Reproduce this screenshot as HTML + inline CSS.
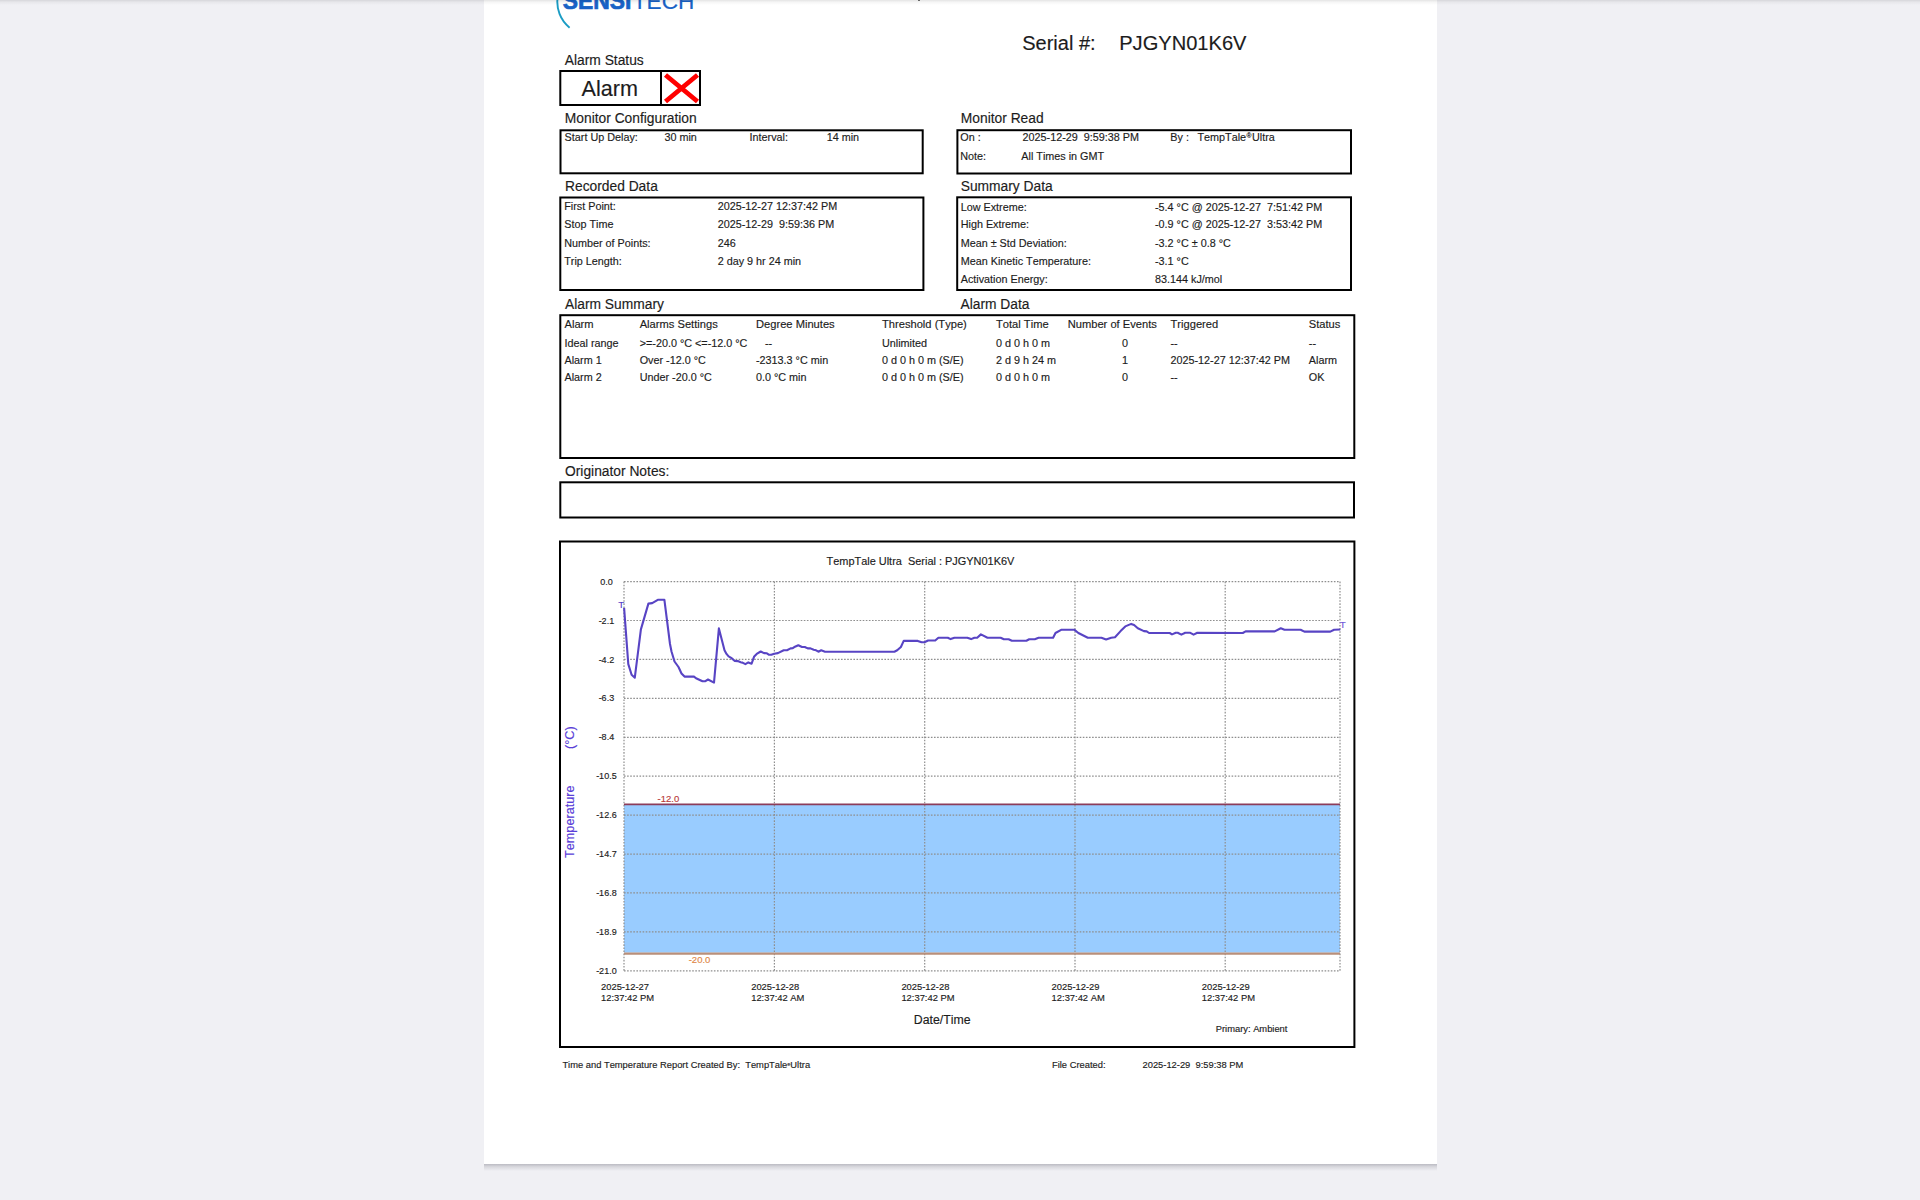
<!DOCTYPE html>
<html><head><meta charset="utf-8">
<style>
html,body{margin:0;padding:0;width:1920px;height:1200px;overflow:hidden;background:rgb(240,240,244);}
#page{position:absolute;left:484px;top:-200px;width:953px;height:1364px;background:#fff;}
#shadow{position:absolute;left:484px;top:1164px;width:953px;height:7px;background:linear-gradient(rgba(0,0,20,0.22),rgba(0,0,20,0.10) 40%,rgba(0,0,20,0));}
#topsh{position:absolute;left:0;top:0;width:1920px;height:5px;background:linear-gradient(rgba(0,0,0,0.11),rgba(0,0,0,0.04) 40%,rgba(0,0,0,0));}
.t{position:absolute;font-family:"Liberation Sans",sans-serif;line-height:1;white-space:pre;color:#1c1c1c;font-kerning:none;-webkit-text-stroke:0.15px currentColor;}
.sup{font-size:62%;vertical-align:0.5em;padding:0 0.5px}
svg{position:absolute;left:0;top:0;}
</style></head><body>
<div id="page"></div>
<div id="shadow"></div>
<svg width="1920" height="1200" viewBox="0 0 1920 1200">
<rect x="560.3" y="71" width="139.70" height="34.00" fill="none" stroke="#000" stroke-width="2"/>
<line x1="661" y1="71" x2="661" y2="105" stroke="#000" stroke-width="2"/>
<path d="M665.5 75 L697.5 101.5 M697.5 75 L665.5 101.5" stroke="#ff0000" stroke-width="4.8" stroke-linecap="butt"/>
<rect x="560.5" y="130.3" width="362.20" height="43.00" fill="none" stroke="#000" stroke-width="2"/>
<rect x="957.4" y="130.2" width="393.60" height="43.30" fill="none" stroke="#000" stroke-width="2"/>
<rect x="560.3" y="197.5" width="363.10" height="92.50" fill="none" stroke="#000" stroke-width="2"/>
<rect x="957.2" y="197.3" width="393.80" height="92.70" fill="none" stroke="#000" stroke-width="2"/>
<rect x="560.3" y="315.2" width="794.00" height="142.80" fill="none" stroke="#000" stroke-width="2"/>
<rect x="560.3" y="482.3" width="793.70" height="35.20" fill="none" stroke="#000" stroke-width="2"/>
<rect x="560.0" y="541.5" width="794.40" height="505.50" fill="none" stroke="#000" stroke-width="2"/>
<rect x="624.0" y="805" width="716.0" height="147.6" fill="#99ccff"/>
<line x1="624.0" y1="581.60" x2="1340.0" y2="581.60" stroke="#8e8e8e" stroke-width="1.2" stroke-dasharray="1.6 1.5"/>
<line x1="624.0" y1="620.52" x2="1340.0" y2="620.52" stroke="#8e8e8e" stroke-width="1.2" stroke-dasharray="1.6 1.5"/>
<line x1="624.0" y1="659.44" x2="1340.0" y2="659.44" stroke="#8e8e8e" stroke-width="1.2" stroke-dasharray="1.6 1.5"/>
<line x1="624.0" y1="698.36" x2="1340.0" y2="698.36" stroke="#8e8e8e" stroke-width="1.2" stroke-dasharray="1.6 1.5"/>
<line x1="624.0" y1="737.28" x2="1340.0" y2="737.28" stroke="#8e8e8e" stroke-width="1.2" stroke-dasharray="1.6 1.5"/>
<line x1="624.0" y1="776.20" x2="1340.0" y2="776.20" stroke="#8e8e8e" stroke-width="1.2" stroke-dasharray="1.6 1.5"/>
<line x1="624.0" y1="815.12" x2="1340.0" y2="815.12" stroke="#8e8e8e" stroke-width="1.2" stroke-dasharray="1.6 1.5"/>
<line x1="624.0" y1="854.04" x2="1340.0" y2="854.04" stroke="#8e8e8e" stroke-width="1.2" stroke-dasharray="1.6 1.5"/>
<line x1="624.0" y1="892.96" x2="1340.0" y2="892.96" stroke="#8e8e8e" stroke-width="1.2" stroke-dasharray="1.6 1.5"/>
<line x1="624.0" y1="931.88" x2="1340.0" y2="931.88" stroke="#8e8e8e" stroke-width="1.2" stroke-dasharray="1.6 1.5"/>
<line x1="624.0" y1="970.80" x2="1340.0" y2="970.80" stroke="#8e8e8e" stroke-width="1.2" stroke-dasharray="1.6 1.5"/>
<line x1="624.0" y1="581.6" x2="624.0" y2="970.80" stroke="#8e8e8e" stroke-width="1.2" stroke-dasharray="1.6 1.5"/>
<line x1="774.4" y1="581.6" x2="774.4" y2="970.80" stroke="#8e8e8e" stroke-width="1.2" stroke-dasharray="1.6 1.5"/>
<line x1="924.7" y1="581.6" x2="924.7" y2="970.80" stroke="#8e8e8e" stroke-width="1.2" stroke-dasharray="1.6 1.5"/>
<line x1="1075.0" y1="581.6" x2="1075.0" y2="970.80" stroke="#8e8e8e" stroke-width="1.2" stroke-dasharray="1.6 1.5"/>
<line x1="1225.2" y1="581.6" x2="1225.2" y2="970.80" stroke="#8e8e8e" stroke-width="1.2" stroke-dasharray="1.6 1.5"/>
<line x1="1340.0" y1="581.6" x2="1340.0" y2="970.80" stroke="#8e8e8e" stroke-width="1.2" stroke-dasharray="1.6 1.5"/>
<line x1="624.0" y1="804.4" x2="1340.0" y2="804.4" stroke="#8c3c5a" stroke-width="1.8"/>
<line x1="624.0" y1="953.6" x2="1340.0" y2="953.6" stroke="#b98f7a" stroke-width="2.2"/>
<path d="M624.1 607.8 L628.3 664.1 L631.6 674.8 L634.8 677.7 L640.9 629.4 L648.4 603.6 L652.2 603.1 L657.8 599.8 L664.4 599.8 L670.0 644.0 L671.5 651.5 L674.5 661.5 L678.5 667.0 L681.5 673.5 L684.5 676.6 L694.0 676.6 L696.0 678.2 L702.5 681.3 L705.0 681.3 L708.0 679.5 L714.0 682.6 L718.9 628.4 L724.5 650.2 L726.5 653.9 L728.6 656.4 L731.2 657.9 L734.8 661.0 L737.8 661.1 L740.7 662.2 L742.5 662.6 L745.4 664.1 L748.3 662.4 L751.6 663.7 L754.2 656.4 L756.7 653.9 L760.7 651.5 L764.0 653.1 L766.9 653.3 L769.1 654.8 L771.3 654.8 L774.2 653.7 L777.9 653.1 L783.7 650.2 L787.0 650.2 L790.6 648.4 L792.8 648.2 L795.0 646.7 L798.3 645.2 L802.0 647.0 L804.8 647.0 L807.7 648.4 L810.5 648.4 L813.7 649.8 L816.1 650.3 L818.4 651.7 L821.2 650.3 L825.0 651.7 L894.4 651.7 L897.2 650.3 L900.9 647.0 L903.7 640.9 L917.8 640.9 L921.6 642.3 L924.4 642.3 L928.1 640.5 L935.2 640.5 L938.4 637.7 L947.8 637.7 L950.6 639.1 L954.4 637.7 L967.3 637.7 L971.1 639.1 L974.4 637.7 L977.2 637.7 L980.9 634.4 L987.5 637.7 L1000.6 637.7 L1003.9 639.2 L1008.6 639.2 L1011.9 640.7 L1026.4 640.7 L1029.2 639.2 L1034.8 639.2 L1038.6 637.7 L1053.1 637.7 L1055.5 633.0 L1061.6 629.7 L1074.2 629.7 L1078.4 633.0 L1087.8 637.7 L1101.4 637.7 L1106.1 639.5 L1111.2 637.7 L1115.0 637.2 L1120.6 631.1 L1125.3 626.4 L1131.2 623.9 L1134.1 625.0 L1137.8 628.3 L1143.9 631.1 L1146.7 631.4 L1149.1 633.0 L1169.7 633.0 L1172.0 634.4 L1175.8 632.8 L1177.7 632.8 L1181.4 634.6 L1185.2 632.8 L1190.3 632.8 L1193.6 634.6 L1197.3 632.8 L1242.8 633.0 L1245.6 631.4 L1274.7 631.4 L1280.8 628.3 L1284.5 629.7 L1300.6 629.7 L1304.4 631.6 L1330.3 631.6 L1334.1 629.7 L1340.3 629.5" fill="none" stroke="#5844c4" stroke-width="2.1" stroke-linejoin="round"/>
<path d="M569.6 27.7 A33 33 0 0 1 557.7 -3" fill="none" stroke="#1a9cc4" stroke-width="1.9"/>
<text x="562.8" y="9.3" font-family="Liberation Sans" font-weight="bold" font-size="23" fill="#1862c6" stroke="#1862c6" stroke-width="0.7" textLength="68.5" lengthAdjust="spacingAndGlyphs">SENSI</text>
<text x="632.8" y="9.3" font-family="Liberation Sans" font-size="22" fill="#1862c6" stroke="#1862c6" stroke-width="0.2" textLength="61.5" lengthAdjust="spacingAndGlyphs">TECH</text>
</svg>
<div class="t" style="left:564.80px;top:54.01px;font-size:13.8px">Alarm Status</div>
<div class="t" style="left:564.80px;top:111.90px;font-size:13.8px">Monitor Configuration</div>
<div class="t" style="left:960.80px;top:111.90px;font-size:13.8px">Monitor Read</div>
<div class="t" style="left:565.00px;top:179.90px;font-size:13.8px">Recorded Data</div>
<div class="t" style="left:960.70px;top:180.20px;font-size:13.8px">Summary Data</div>
<div class="t" style="left:565.00px;top:298.20px;font-size:13.8px">Alarm Summary</div>
<div class="t" style="left:960.50px;top:297.81px;font-size:13.8px">Alarm Data</div>
<div class="t" style="left:565.00px;top:464.61px;font-size:13.8px">Originator Notes:</div>
<div class="t" style="left:581.50px;top:77.80px;font-size:21.6px">Alarm</div>
<div class="t" style="left:1022.20px;top:32.70px;font-size:20.0px">Serial #:</div>
<div class="t" style="left:1119.20px;top:32.70px;font-size:20.1px">PJGYN01K6V</div>
<div class="t" style="left:564.60px;top:131.71px;font-size:10.8px">Start Up Delay:</div>
<div class="t" style="left:664.40px;top:131.71px;font-size:10.8px">30 min</div>
<div class="t" style="left:749.60px;top:131.71px;font-size:10.8px">Interval:</div>
<div class="t" style="left:826.70px;top:131.71px;font-size:10.8px">14 min</div>
<div class="t" style="left:960.30px;top:131.91px;font-size:10.8px">On :</div>
<div class="t" style="left:1022.60px;top:131.91px;font-size:10.8px">2025-12-29&nbsp; 9:59:38 PM</div>
<div class="t" style="left:1170.30px;top:131.91px;font-size:10.8px">By :</div>
<div class="t" style="left:1197.50px;top:131.91px;font-size:10.8px">TempTale<span class="sup">&reg;</span>Ultra</div>
<div class="t" style="left:960.30px;top:150.80px;font-size:10.8px">Note:</div>
<div class="t" style="left:1021.30px;top:150.80px;font-size:10.8px">All Times in GMT</div>
<div class="t" style="left:564.20px;top:201.21px;font-size:10.8px">First Point:</div>
<div class="t" style="left:717.70px;top:201.21px;font-size:10.8px">2025-12-27 12:37:42 PM</div>
<div class="t" style="left:564.20px;top:219.30px;font-size:10.8px">Stop Time</div>
<div class="t" style="left:717.70px;top:219.30px;font-size:10.8px">2025-12-29&nbsp; 9:59:36 PM</div>
<div class="t" style="left:564.20px;top:238.10px;font-size:10.8px">Number of Points:</div>
<div class="t" style="left:717.70px;top:238.10px;font-size:10.8px">246</div>
<div class="t" style="left:564.20px;top:256.21px;font-size:10.8px">Trip Length:</div>
<div class="t" style="left:717.70px;top:256.21px;font-size:10.8px">2 day 9 hr 24 min</div>
<div class="t" style="left:960.70px;top:202.21px;font-size:10.8px">Low Extreme:</div>
<div class="t" style="left:1155.00px;top:202.21px;font-size:10.8px">-5.4 &deg;C @ 2025-12-27&nbsp; 7:51:42 PM</div>
<div class="t" style="left:960.70px;top:219.10px;font-size:10.8px">High Extreme:</div>
<div class="t" style="left:1155.00px;top:219.10px;font-size:10.8px">-0.9 &deg;C @ 2025-12-27&nbsp; 3:53:42 PM</div>
<div class="t" style="left:960.70px;top:237.91px;font-size:10.8px">Mean &plusmn; Std Deviation:</div>
<div class="t" style="left:1155.00px;top:237.91px;font-size:10.8px">-3.2 &deg;C &plusmn; 0.8 &deg;C</div>
<div class="t" style="left:960.70px;top:256.00px;font-size:10.8px">Mean Kinetic Temperature:</div>
<div class="t" style="left:1155.00px;top:256.00px;font-size:10.8px">-3.1 &deg;C</div>
<div class="t" style="left:960.70px;top:274.21px;font-size:10.8px">Activation Energy:</div>
<div class="t" style="left:1155.00px;top:274.21px;font-size:10.8px">83.144 kJ/mol</div>
<div class="t" style="left:564.50px;top:319.41px;font-size:11.15px">Alarm</div>
<div class="t" style="left:639.70px;top:319.41px;font-size:11.15px">Alarms Settings</div>
<div class="t" style="left:756.00px;top:319.41px;font-size:11.15px">Degree Minutes</div>
<div class="t" style="left:882.00px;top:319.41px;font-size:11.15px">Threshold (Type)</div>
<div class="t" style="left:996.00px;top:319.41px;font-size:11.15px">Total Time</div>
<div class="t" style="left:1067.70px;top:319.41px;font-size:11.15px">Number of Events</div>
<div class="t" style="left:1170.50px;top:319.41px;font-size:11.15px">Triggered</div>
<div class="t" style="left:1308.80px;top:319.41px;font-size:11.15px">Status</div>
<div class="t" style="left:564.50px;top:337.50px;font-size:10.8px">Ideal range</div>
<div class="t" style="left:639.70px;top:337.50px;font-size:10.8px">>=-20.0 &deg;C &lt;=-12.0 &deg;C</div>
<div class="t" style="left:756.00px;top:337.50px;font-size:10.8px">&nbsp;&nbsp;&nbsp;--</div>
<div class="t" style="left:882.00px;top:337.50px;font-size:10.8px">Unlimited</div>
<div class="t" style="left:996.00px;top:337.50px;font-size:10.8px">0 d 0 h 0 m</div>
<div class="t" style="left:1122.00px;top:337.50px;font-size:10.8px;width:6px;text-align:center">0</div>
<div class="t" style="left:1170.50px;top:337.50px;font-size:10.8px">--</div>
<div class="t" style="left:1308.80px;top:337.50px;font-size:10.8px">--</div>
<div class="t" style="left:564.50px;top:354.50px;font-size:10.8px">Alarm 1</div>
<div class="t" style="left:639.70px;top:354.50px;font-size:10.8px">Over -12.0 &deg;C</div>
<div class="t" style="left:756.00px;top:354.50px;font-size:10.8px">-2313.3 &deg;C min</div>
<div class="t" style="left:882.00px;top:354.50px;font-size:10.8px">0 d 0 h 0 m (S/E)</div>
<div class="t" style="left:996.00px;top:354.50px;font-size:10.8px">2 d 9 h 24 m</div>
<div class="t" style="left:1122.00px;top:354.50px;font-size:10.8px;width:6px;text-align:center">1</div>
<div class="t" style="left:1170.50px;top:354.50px;font-size:10.8px">2025-12-27 12:37:42 PM</div>
<div class="t" style="left:1308.80px;top:354.50px;font-size:10.8px">Alarm</div>
<div class="t" style="left:564.50px;top:372.41px;font-size:10.8px">Alarm 2</div>
<div class="t" style="left:639.70px;top:372.41px;font-size:10.8px">Under -20.0 &deg;C</div>
<div class="t" style="left:756.00px;top:372.41px;font-size:10.8px">0.0 &deg;C min</div>
<div class="t" style="left:882.00px;top:372.41px;font-size:10.8px">0 d 0 h 0 m (S/E)</div>
<div class="t" style="left:996.00px;top:372.41px;font-size:10.8px">0 d 0 h 0 m</div>
<div class="t" style="left:1122.00px;top:372.41px;font-size:10.8px;width:6px;text-align:center">0</div>
<div class="t" style="left:1170.50px;top:372.41px;font-size:10.8px">--</div>
<div class="t" style="left:1308.80px;top:372.41px;font-size:10.8px">OK</div>
<div class="t" style="left:826.50px;top:555.71px;font-size:10.95px">TempTale Ultra&nbsp; Serial : PJGYN01K6V</div>
<div class="t" style="left:556.40px;top:577.70px;font-size:9.0px;width:100px;text-align:center">0.0</div>
<div class="t" style="left:556.40px;top:616.62px;font-size:9.0px;width:100px;text-align:center">-2.1</div>
<div class="t" style="left:556.40px;top:655.56px;font-size:9.0px;width:100px;text-align:center">-4.2</div>
<div class="t" style="left:556.40px;top:694.47px;font-size:9.0px;width:100px;text-align:center">-6.3</div>
<div class="t" style="left:556.40px;top:733.39px;font-size:9.0px;width:100px;text-align:center">-8.4</div>
<div class="t" style="left:556.40px;top:772.31px;font-size:9.0px;width:100px;text-align:center">-10.5</div>
<div class="t" style="left:556.40px;top:811.23px;font-size:9.0px;width:100px;text-align:center">-12.6</div>
<div class="t" style="left:556.40px;top:850.15px;font-size:9.0px;width:100px;text-align:center">-14.7</div>
<div class="t" style="left:556.40px;top:889.06px;font-size:9.0px;width:100px;text-align:center">-16.8</div>
<div class="t" style="left:556.40px;top:927.98px;font-size:9.0px;width:100px;text-align:center">-18.9</div>
<div class="t" style="left:556.40px;top:966.92px;font-size:9.0px;width:100px;text-align:center">-21.0</div>
<div class="t" style="left:601.00px;top:981.81px;font-size:9.4px">2025-12-27</div>
<div class="t" style="left:601.00px;top:993.01px;font-size:9.4px">12:37:42 PM</div>
<div class="t" style="left:751.20px;top:981.81px;font-size:9.4px">2025-12-28</div>
<div class="t" style="left:751.20px;top:993.01px;font-size:9.4px">12:37:42 AM</div>
<div class="t" style="left:901.40px;top:981.81px;font-size:9.4px">2025-12-28</div>
<div class="t" style="left:901.40px;top:993.01px;font-size:9.4px">12:37:42 PM</div>
<div class="t" style="left:1051.60px;top:981.81px;font-size:9.4px">2025-12-29</div>
<div class="t" style="left:1051.60px;top:993.01px;font-size:9.4px">12:37:42 AM</div>
<div class="t" style="left:1201.80px;top:981.81px;font-size:9.4px">2025-12-29</div>
<div class="t" style="left:1201.80px;top:993.01px;font-size:9.4px">12:37:42 PM</div>
<div class="t" style="left:657.60px;top:793.90px;font-size:9.5px;color:#b83c3c">-12.0</div>
<div class="t" style="left:688.70px;top:955.01px;font-size:9.5px;color:#e08848">-20.0</div>
<div class="t" style="left:913.75px;top:1014.26px;font-size:12.3px">Date/Time</div>
<div class="t" style="left:1215.75px;top:1025.01px;font-size:9.35px">Primary: Ambient</div>
<div class="t" style="left:563.9px;top:857.5px;font-size:12.7px;line-height:1;color:#5a40d8;transform-origin:0 0;transform:rotate(-90deg)">Temperature</div>
<div class="t" style="left:563.9px;top:749px;font-size:12.7px;line-height:1;color:#5a40d8;transform-origin:0 0;transform:rotate(-90deg)">(&deg;C)</div>
<div class="t" style="left:618.20px;top:600.02px;font-size:9.8px;color:#5540c8">T</div>
<div class="t" style="left:1339.80px;top:620.30px;font-size:9.8px;color:#7058d8">T</div>
<div class="t" style="left:562.40px;top:1060.70px;font-size:9.35px">Time and Temperature Report Created By:&nbsp; TempTale<span class="sup" style="font-size:45%;padding:0">&reg;</span>Ultra</div>
<div class="t" style="left:1052.00px;top:1061.01px;font-size:9.35px">File Created:</div>
<div class="t" style="left:1142.50px;top:1061.01px;font-size:9.35px">2025-12-29&nbsp; 9:59:38 PM</div>
<div style="position:absolute;left:917.6px;top:0;width:2.7px;height:1px;background:#444;border-radius:0 0 1px 1px"></div>
<div id="topsh"></div>
</body></html>
